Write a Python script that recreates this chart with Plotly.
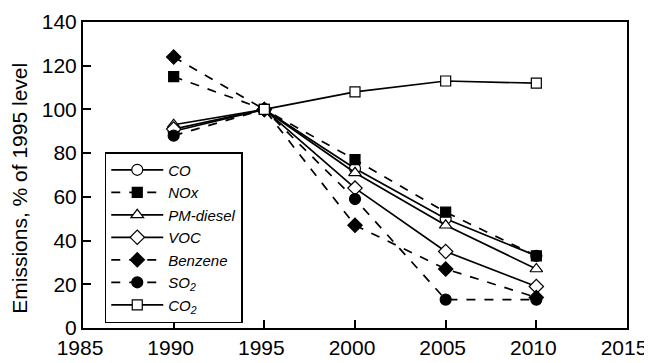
import plotly.graph_objects as go

years = [1990, 1995, 2000, 2005, 2010]
co = [90, 100, 73, 50, 33]
nox = [115, 100, 77, 53, 33]
pm_diesel = [93, 100, 71, 47, 27]
voc = [91, 100, 64, 35, 19]
benzene = [124, 100, 47, 27, 14]
so2 = [88, 100, 59, 13, 13]
co2_years = [1995, 2000, 2005, 2010]
co2 = [100, 108, 113, 112]
y_title = "Emissions, % of 1995 level"

# name, x, y, dash, symbol, filled
series = [
    ("<i>CO</i>", years, co, "solid", "circle", False),
    ("<i>NOx</i>", years, nox, "dash", "square", True),
    ("<i>PM-diesel</i>", years, pm_diesel, "solid", "triangle-up", False),
    ("<i>VOC</i>", years, voc, "solid", "diamond", False),
    ("<i>Benzene</i>", years, benzene, "dash", "diamond", True),
    ("<i>SO<sub>2</sub></i>", years, so2, "dash", "circle", True),
    ("<i>CO<sub>2</sub></i>", co2_years, co2, "solid", "square", False),
]

fig = go.Figure()
for name, x, y, dash, sym, filled in series:
    fig.add_trace(go.Scatter(
        x=x, y=y, name=name, mode="lines+markers",
        line=dict(color="black", width=1.7, dash=dash),
        marker=dict(symbol=sym, size=11 if sym != "square" else 10,
                    color="black" if filled else "white",
                    line=dict(color="black", width=1.2)),
    ))

fig.update_layout(
    width=644, height=355,
    margin=dict(l=75, r=25, t=14, b=35),
    paper_bgcolor="white", plot_bgcolor="white",
    font=dict(family="Liberation Sans, Arial, sans-serif", size=21, color="black"),
    legend=dict(x=0.04, y=0.575, xanchor="left", yanchor="top",
                bordercolor="black", borderwidth=1.5, bgcolor="white",
                font=dict(size=15), tracegroupgap=0, itemwidth=52),
    showlegend=True,
    annotations=[dict(text=y_title, xref="paper", yref="paper", x=0, y=0.455,
                      xanchor="center", yanchor="middle", xshift=-63,
                      textangle=-90, showarrow=False, font=dict(size=21))],
)
fig.update_xaxes(range=[1985, 2015], dtick=5, tick0=1985, showgrid=False, zeroline=False,
                 showline=True, linecolor="black", linewidth=2, mirror=True,
                 ticks="inside", ticklen=8, tickwidth=1.5, tickcolor="black",
                 ticklabelshift=-3, tickfont=dict(size=21), automargin=False)
fig.update_yaxes(range=[0, 140], dtick=20, showgrid=False, zeroline=False,
                 showline=True, linecolor="black", linewidth=2, mirror=True,
                 ticks="inside", ticklen=8, tickwidth=1.5, tickcolor="black",
                 tickfont=dict(size=21), automargin=False)

fig.write_html("out.html")
